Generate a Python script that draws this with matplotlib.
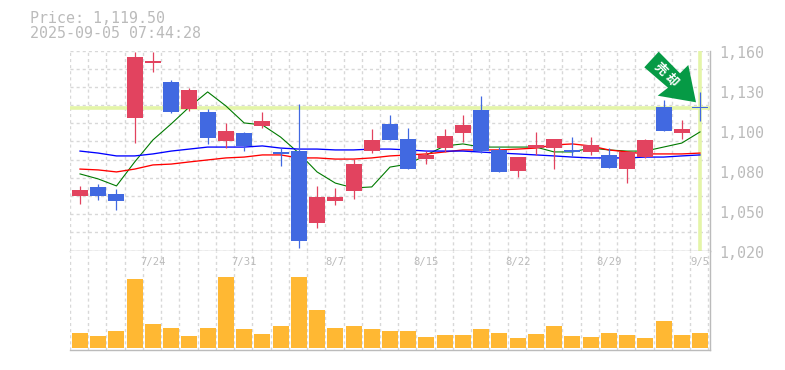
import numpy as np
import matplotlib
matplotlib.use("Agg")
import matplotlib.pyplot as plt
from matplotlib.patches import Polygon

highs = [1065.2,1066.6,1063.1,1159,1159,1139.4,1133.8,1119.1,1109.3,1103,1117,1091.7,1122.5,1065.2,1063.8,1084,1105,1114.9,1105.7,1089.6,1105,1114.9,1128.2,1092.4,1085.4,1103,1098,1099.4,1099.4,1091.7,1088.9,1098,1125.4,1111.4,1131]
opens = [1058.2,1064.5,1059.6,1112.7,1151.2,1138,1119.1,1117,1096.7,1102.3,1107.2,1088.9,1089.6,1039.2,1054.7,1061.6,1089.6,1108.6,1098,1084,1091.7,1102.3,1118.4,1090.4,1075.6,1091.7,1091.7,1090.4,1088.9,1086.9,1077,1085.4,1120.5,1102.3,1120.5]
closes = [1062.4,1058.2,1054.7,1155.5,1152.7,1117,1132.4,1098.8,1103.7,1093.2,1110.6,1087.5,1026.6,1057.5,1057.5,1080.5,1097.4,1097.4,1077,1086.9,1100.2,1107.9,1089.6,1074.9,1085.4,1093.9,1098,1088.9,1093.9,1077.7,1088.9,1097.4,1103.7,1105,1119.5]
lows = [1052.6,1055.4,1048.4,1095.3,1145,1116.3,1117.7,1094.6,1091.7,1089.6,1105.7,1079.2,1021.7,1035.7,1051.9,1056,1088.2,1097.4,1077,1080.5,1088.9,1096,1088.2,1074.9,1071.4,1086.9,1077,1086.2,1086.9,1077.7,1067.2,1084.7,1103.7,1098,1110.6]
ma_green = [1073.6,1070.1,1065.2,1082,1097.4,1108.6,1120.5,1131,1121.2,1109.3,1107.9,1099.4,1088.2,1075,1067.2,1063.8,1064.5,1078.4,1080.5,1086.9,1093.2,1094.6,1092.4,1092.4,1092.4,1092.4,1089,1089,1091.7,1090.4,1089.6,1089.6,1092.4,1095.2,1103]
ma_blue = [1089.6,1088.2,1086.2,1086.2,1087.6,1089.6,1091,1092.4,1092.4,1092.4,1093.2,1091.7,1091,1091,1090.4,1090.4,1091,1091,1090.4,1089.6,1089.6,1089.6,1088.9,1088.2,1087.6,1086.9,1086.2,1085.4,1084.8,1084.8,1084.8,1085.4,1085.4,1086.2,1086.9]
ma_red = [1077,1076.4,1075,1077,1079.9,1080.5,1082,1083.4,1084.8,1085.4,1086.9,1086.9,1084.8,1084.8,1084,1084,1084.8,1086.2,1086.9,1087.6,1089,1090.4,1090.4,1090.4,1091,1091.7,1093.9,1094.6,1093.2,1090.4,1089,1087.6,1087.6,1087.6,1088.2]
volumes = [15,12,17,69,24,20,12,20,71,19,14,22,71,38,20,22,19,17,17,11,13,13,19,15,10,14,22,12,11,15,13,10,27,13,15]
date_idx = [4,9,14,19,24,29,34]
date_labels = ["7/24","7/31","8/7","8/15","8/22","8/29","9/5"]
price_tick_pos = [1160,1132,1104,1076,1048,1020]
price_tick_labels = ["1,160","1,130","1,100","1,080","1,050","1,020"]
last_price = 1119.5
header = ["Price: 1,119.50","2025-09-05 07:44:28"]
badge_chars = ["売","却"]

W,H = 785,370
RED="#e2435f"; BLUE="#4169e1"; GREY="#bbbbbb"; GRID="#d8d8d8"; HL="#e4f5a8"; ORANGE="#ffb833"; ARROW="#069a45"
DASH=(0,(2.2,2.2))
plt.rcParams['font.family'] = ['DejaVu Sans Mono','Noto Sans CJK JP']
fig = plt.figure(figsize=(W/100,H/100),dpi=100)
def axpx(l,t,r,b):
    return fig.add_axes([l/W,1-b/H,(r-l)/W,(b-t)/H])
ax = axpx(70,50.5,710,250.5)
axv = axpx(70,250.5,710,349.5)
n=len(closes); step=18.235
xl=(-(80-70)/step,(710-80)/step)
xs=np.arange(n)
gridx = xl[0]+np.arange(0,36)
for a in (ax,axv):
    a.set_xlim(*xl)
    a.set_axisbelow(True)
    a.set_xticks(gridx)
    a.tick_params(axis='both',length=0,labelbottom=False)
    a.grid(axis='x',color=GRID,lw=1,ls=DASH)
    a.set_facecolor('white')
ax.set_ylim(1020,1160)
ax.set_yticks(np.linspace(1020,1160,12))
ax.set_yticklabels([])
ax.grid(axis='y',color=GRID,lw=1,ls=DASH)
for pos,lab in zip(price_tick_pos,price_tick_labels):
    ax.annotate(lab,xy=(1,pos),xycoords=ax.get_yaxis_transform(),xytext=(9.5,-3.5),textcoords='offset pixels',
                ha='left',va='center',color=GREY,fontsize=10.8,annotation_clip=False)
for s in ['top','left']:
    ax.spines[s].set_visible(False); axv.spines[s].set_visible(False)
for s in ['right','bottom']:
    for a in (ax,axv):
        a.spines[s].set_color(GREY); a.spines[s].set_linewidth(1.0)
ax.axhline(last_price,color=HL,lw=2.6,zorder=1.5)
ax.axvline(n-1,color=HL,lw=2.6,zorder=1.5)
ax.plot(xs,ma_green,color="#007a00",lw=0.8,zorder=2)
ax.plot(xs,ma_red,color="#ff0000",lw=0.95,zorder=2)
ax.plot(xs,ma_blue,color="#0000ff",lw=0.95,zorder=2)
bw=16/step
for i,(h,o,c,l) in enumerate(zip(highs,opens,closes,lows)):
    col = RED if c>=o else BLUE
    ax.vlines(i,l,h,color=col,lw=0.9,zorder=3)
    ax.bar(i,max(abs(c-o),1.0),bottom=min(o,c),width=bw,color=col,zorder=3.5,linewidth=0)
axv.set_ylim(-1.4,97.6)
axv.set_yticks([])
axv.bar(xs,volumes,width=bw,color=ORANGE,linewidth=0,zorder=3)
for i,lab in zip(date_idx,date_labels):
    axv.annotate(lab,xy=(i,1),xycoords=axv.get_xaxis_transform(),xytext=(0,-11.5),textcoords='offset pixels',
                 ha='center',va='center',color=GREY,fontsize=7.6,zorder=4)
for lab,y in zip(header,(18.5,33)):
    fig.text(30/W,1-y/H,lab,color=GREY,fontsize=10.8,va='center',ha='left')
# sell badge: annotation placed in figure pixels
pts = np.array([[696,102.3],[688.3,65],[680,73.3],[658.7,51.7],[644.3,67.3],[668,87.7],[657.7,95.7]])
fig.add_artist(Polygon(np.c_[pts[:,0],H-pts[:,1]],closed=True,transform=None,facecolor=ARROW,edgecolor='none',zorder=10,clip_on=False))
for ch,(px,py) in zip(badge_chars,((660,69),(671.5,80))):
    fig.text(px/W,1-py/H,ch,color='white',fontsize=9,rotation=-45,rotation_mode='anchor',ha='center',va='center',
             zorder=11,fontweight='bold',family=['Noto Sans CJK JP'])
fig.savefig("out.png",dpi=100,facecolor='white')
